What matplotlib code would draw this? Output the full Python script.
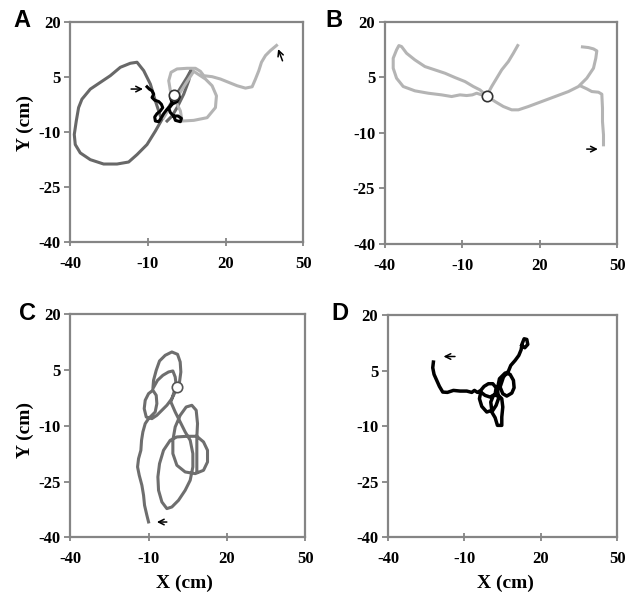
import matplotlib
matplotlib.use('Agg')
import matplotlib.pyplot as plt
import numpy as np

# Panel A: three trajectories
a_dark_x = [-5.19, -7.12, -9.05, -11.63, -14.21, -16.79, -20.66, -24.53, -28.40, -32.26, -35.49, -36.78,
            -37.68, -38.45, -38.07, -36.13, -32.26, -27.11, -21.95, -17.44, -14.21, -10.34, -7.12, -4.54,
            -1.32, 1.91, 5.13, 6.68, 5.77, 3.84, 1.26, -0.67, -2.61]
a_dark_y = [-5.65, -1.53, 3.05, 6.72, 9.01, 8.73, 7.63, 5.34, 3.51, 1.68, -1.07, -3.36,
            -7.02, -10.69, -13.43, -15.72, -17.56, -18.75, -18.75, -18.20, -16.18, -13.43, -9.77, -6.56,
            -2.44, 1.22, 4.89, 6.90, 3.97, 0.31, -3.36, -5.65, -7.02]

a_light_x = [39.69, 37.36, 35.43, 33.88, 32.85, 31.56, 30.27, 27.69, 24.47, 21.25, 18.02, 14.80,
             11.58, 10.29, 8.35, 5.13, 1.26, -1.06, -1.96, -1.32, 0.62, 2.55, 3.19, 7.71, 12.87,
             16.09, 16.48, 14.80, 12.22, 7.71, 4.48, 1.26, -1.96, -3.90]
a_light_y = [13.59, 12.21, 10.84, 9.01, 6.72, 4.43, 2.32, 1.95, 2.60, 3.51, 4.43, 5.07,
             5.34, 6.53, 7.36, 7.36, 7.18, 6.26, 3.97, 1.22, -1.53, -4.27, -7.02, -6.84, -6.11,
             -3.36, -0.15, 2.60, 4.43, 6.53, 3.05, -0.61, -3.82, -6.11]

a_black_x = [-10.34, -9.44, -8.41, -7.76, -8.41, -7.38, -5.83, -4.80, -4.28, -5.19, -6.48, -7.38,
             -7.12, -5.83, -4.80, -3.90, -2.61, -1.32, -0.67, -1.32, -0.67, 1.26, 2.16, 1.26,
             -0.67, -1.96, -1.32, -0.03, 0.62, 2.55, 2.94, 1.65, -0.03]
a_black_y = [2.32, 1.68, 1.22, 0.31, -0.61, -1.34, -1.71, -2.44, -3.36, -4.27, -5.01, -5.92,
             -7.02, -7.21, -6.11, -5.01, -3.82, -2.90, -1.98, -0.61, 0.31, 0.49, -0.43, -1.71,
             -2.44, -3.54, -4.73, -5.65, -6.84, -7.21, -6.29, -5.65, -5.65]

# Panel B: one trajectory (NaN separates the side branch)
b_x = [11.47, 9.78, 7.84, 5.26, 3.32, 1.38, -0.56,
       -3.15, -5.73, -8.97, -12.84, -16.72, -20.60, -24.48, -28.36, -31.59, -33.53, -34.57, -35.47,
       -36.77, -36.77, -35.47, -32.89, -28.36, -23.19, -18.02, -14.14, -10.91, -8.32, -6.12, -4.44,
       -2.50, -0.56,
       2.67, 5.91, 9.14, 11.72, 15.60, 20.78, 25.95, 31.12, 35.00, 38.23, 40.82, 41.72, 42.11,
       40.82, 38.88, 36.55,
       np.nan, 36.29, 38.23, 40.17, 42.76, 44.05, 44.31, 44.31, 44.70, 44.70]
b_y = [13.61, 11.53, 9.28, 7.03, 4.78, 2.53, 0.00,
       1.62, 2.53, 3.88, 4.96, 6.13, 7.03, 7.93, 9.73, 11.53, 13.34, 13.61, 12.44,
       10.18, 7.48, 4.78, 2.53, 1.36, 0.72, 0.27, -0.18, 0.27, 0.09, 0.27, 0.72,
       0.27, 0.00,
       -1.53, -2.88, -3.78, -3.78, -2.88, -1.53, -0.18, 1.17, 2.53, 4.78, 7.48, 10.18, 12.17,
       12.71, 13.07, 13.25,
       np.nan, 2.53, 1.90, 1.17, 0.99, 0.45, -3.33, -6.93, -10.54, -13.24]

# Panel C
c_x = [-10.00, -10.64, -11.53, -11.91, -12.55, -13.57, -14.21, -13.83, -12.94, -12.68, -12.17, -11.28,
       -10.00, -8.72, -7.45, -6.81, -7.06, -8.34, -10.00, -11.28, -11.66, -10.89, -8.72, -6.81,
       -4.89, -2.98, -1.06, 0.21, 1.87, 2.38, 2.13, 1.11, -1.06, -3.62, -5.79, -7.06, -8.08, -8.34,
       -6.55, -4.51, -2.34, -0.68, 0.21, 0.60, -0.42, -1.45, 0.21, 2.13, 4.04, 5.96, 6.98, 6.98,
       5.96, 4.04, 1.49, -1.06, -2.98, -4.89, -6.17, -6.42, -5.79, -4.26, -1.70, 0.85, 4.68, 8.51,
       11.07, 12.60, 12.60, 11.07, 7.87, 4.04, 0.85, -0.68, -0.68, 0.21, 2.13, 4.43, 6.60, 8.26,
       8.77, 8.51, 8.51, 8.51]
c_y = [-35.88, -34.09, -31.40, -28.71, -26.02, -23.32, -21.08, -18.84, -16.60, -13.91, -11.66, -9.42,
       -8.08, -7.18, -6.28, -4.04, -1.80, -0.45, -1.35, -3.14, -5.39, -7.63, -8.08, -7.18,
       -5.83, -4.49, -2.70, -0.90, 1.79, 4.48, 7.17, 9.23, 9.86, 8.96, 7.44, 4.93, 2.24, 0.00,
       2.24, 3.58, 4.48, 4.75, 3.13, 0.89, -1.35, -3.59, -6.28, -8.97, -11.66, -13.91, -17.49, -21.08,
       -24.67, -27.36, -30.05, -31.85, -32.29, -30.50, -27.36, -23.77, -20.19, -16.60, -13.91, -13.01, -12.83, -12.83,
       -14.35, -16.60, -19.74, -21.98, -22.88, -22.43, -20.63, -17.49, -13.91, -10.32, -7.18, -4.94, -4.49, -5.83,
       -9.42, -13.01, -17.49, -22.43]

# Panel D
d_x = [-22.18, -22.44, -21.92, -20.87, -19.82, -18.51, -16.68, -14.32, -11.70, -9.08, -7.12, -6.07,
       -4.89, -3.58, -2.27, -0.57, 1.14, 2.45, 2.06, 0.09, -1.87, -3.58, -4.10, -3.19, -1.22, 0.75,
       0.35, 1.40, 3.37, 4.68, 5.07, 4.68, 4.68, 2.97, 2.06, 0.75, 2.45, 3.37, 2.97, 3.76, 5.99,
       7.95, 9.26, 9.52, 8.61, 6.64, 5.07, 4.02, 5.33, 7.30, 8.21, 9.92, 11.36, 12.27, 12.67, 13.45,
       14.50, 14.89, 13.71, 12.54]
d_y = [7.39, 5.86, 4.06, 2.44, 0.82, -0.72, -0.81, -0.27, -0.45, -0.45, -0.81, -0.27,
       -0.81, -0.27, 0.82, 1.54, 1.54, 0.45, -1.35, -2.07, -1.62, -0.72, -2.52, -4.59, -6.12, -5.67,
       -3.42, -1.62, -1.62, -2.52, -4.77, -7.47, -9.73, -9.73, -7.65, -6.12, -4.32, -2.52, 0.18, 2.89, 4.42,
       4.06, 2.44, 0.45, -1.00, -1.80, -1.17, 0.63, 3.34, 4.96, 6.49, 7.84, 9.19, 10.72, 12.35, 13.70,
       13.52, 12.17, 11.27, 11.90]

x_ticks = [-40, -10, 20, 50]
y_ticks = [-40, -25, -10, 5, 20]

DARK = '#686868'
LIGHT = '#b4b4b4'
SPINE = '#858585'

fig = plt.figure(figsize=(6.33, 5.93), dpi=100)
serif = ['Liberation Serif', 'DejaVu Serif']

positions = {
    'A': [0.111, 0.592, 0.368, 0.371],
    'B': [0.608, 0.589, 0.367, 0.374],
    'C': [0.111, 0.094, 0.371, 0.376],
    'D': [0.613, 0.094, 0.362, 0.374],
}
axes = {}
for key, pos in positions.items():
    ax = fig.add_axes(pos)
    ax.set_xlim(-40, 50)
    ax.set_ylim(-40, 20)
    ax.set_xticks(x_ticks)
    ax.set_yticks(y_ticks)
    ax.set_xticklabels([str(t) for t in x_ticks], family=serif, fontweight='bold', fontsize=12)
    ax.set_yticklabels([str(t) for t in y_ticks], family=serif, fontweight='bold', fontsize=12)
    ax.tick_params(axis='y', direction='out', length=4, width=1.3, color=SPINE, pad=3)
    ax.tick_params(axis='x', direction='inout', length=6, width=1.3, color=SPINE, pad=7)
    for s in ax.spines.values():
        s.set_color(SPINE)
        s.set_linewidth(1.6)
    axes[key] = ax


def arrow(ax, tail, tip):
    ax.annotate('', xy=tip, xytext=tail,
                arrowprops=dict(arrowstyle='->', color='black', lw=1.1, mutation_scale=10,
                                shrinkA=0, shrinkB=0))


ax = axes['A']
ax.plot(a_dark_x, a_dark_y, color=DARK, lw=2.2)
ax.plot(a_light_x, a_light_y, color=LIGHT, lw=2.2)
ax.plot(a_black_x, a_black_y, color='black', lw=2.2)
ax.plot([0], [0], 'o', ms=7.5, mfc='white', mec='#333333', mew=1.2)
arrow(ax, (-16.5, 1.7), (-11.9, 1.7))
arrow(ax, (42.0, 9.4), (40.3, 12.6))

ax = axes['B']
ax.plot(b_x, b_y, color=LIGHT, lw=2.2)
ax.plot([-0.6], [0], 'o', ms=7.5, mfc='white', mec='#333333', mew=1.2)
arrow(ax, (38.2, -14.4), (42.5, -14.4))

ax = axes['C']
ax.plot(c_x, c_y, color='#6e6e6e', lw=2.2)
ax.plot([0.9], [0.4], 'o', ms=7.5, mfc='white', mec='#555555', mew=1.2)
arrow(ax, (-3.0, -35.9), (-6.8, -35.9))

ax = axes['D']
ax.plot(d_x, d_y, color='black', lw=2.5)
arrow(ax, (-13.7, 8.9), (-18.2, 8.9))

for letter, (lx, ly) in {'A': (0.035, 0.966), 'B': (0.528, 0.966),
                         'C': (0.043, 0.472), 'D': (0.537, 0.472)}.items():
    fig.text(lx, ly, letter, ha='center', va='center', fontsize=17, fontweight='bold',
             family=['Liberation Sans', 'DejaVu Sans'])

for yy in (0.793, 0.275):
    fig.text(0.040, yy, 'Y (cm)', rotation=90, ha='center', va='center', fontsize=14,
             fontweight='bold', family=serif)
for xx in (0.292, 0.798):
    fig.text(xx, 0.017, 'X (cm)', ha='center', va='center', fontsize=14,
             fontweight='bold', family=serif)

fig.savefig('out.png', dpi=100, facecolor='white')
